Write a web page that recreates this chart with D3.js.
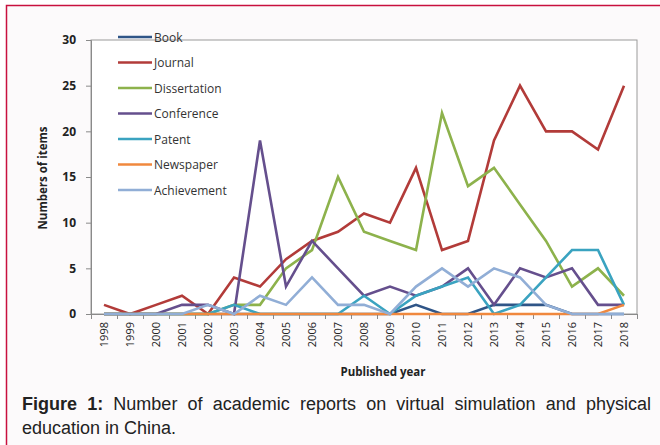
<!DOCTYPE html>
<html>
<head>
<meta charset="utf-8">
<script src="https://cdn.jsdelivr.net/npm/d3@7"></script>
<style>
  html, body { margin: 0; padding: 0; background: #fff; }
  svg { display: block; }
</style>
</head>
<body>
<svg id="chart"></svg>
<script>
// Academic reports per year, by type
const years = ['1998','1999','2000','2001','2002','2003','2004','2005','2006','2007','2008',
  '2009','2010','2011','2012','2013','2014','2015','2016','2017','2018'];
const seriesNames = ['Book', 'Journal', 'Dissertation', 'Conference', 'Patent', 'Newspaper', 'Achievement'];
const book =         [0, 0, 0, 0, 0, 0, 0, 0, 0, 0, 0, 0, 1, 0, 0, 1, 1, 1, 0, 0, 0];
const journal =      [1, 0, 1, 2, 0, 4, 3, 6, 8, 9, 11, 10, 16, 7, 8, 19, 25, 20, 20, 18, 25];
const dissertation = [0, 0, 0, 0, 0, 1, 1, 5, 7, 15, 9, 8, 7, 22, 14, 16, 12, 8, 3, 5, 2];
const conference =   [0, 0, 0, 1, 1, 0, 19, 3, 8, 5, 2, 3, 2, 3, 5, 1, 5, 4, 5, 1, 1];
const patent =       [0, 0, 0, 0, 0, 1, 0, 0, 0, 0, 2, 0, 2, 3, 4, 0, 1, 4, 7, 7, 1];
const newspaper =    [0, 0, 0, 0, 0, 0, 0, 0, 0, 0, 0, 0, 0, 0, 0, 0, 0, 0, 0, 0, 1];
const achievement =  [0, 0, 0, 0, 1, 0, 2, 1, 4, 1, 1, 0, 3, 5, 3, 5, 4, 1, 0, 0, 0];
const yTicks = [0, 5, 10, 15, 20, 25, 30];
const colors = ['#2f5587', '#b23b39', '#8db24c', '#654f8d', '#3aa3c0', '#f0883e', '#91aed6'];

const width = 660, height = 445;
const svg = d3.select('#chart').attr('width', width).attr('height', height);

// Figure frame
svg.append('rect').attr('x', 6.5).attr('y', 5.5).attr('width', 700).attr('height', 500)
  .attr('fill', '#fcfafb').attr('stroke', '#c8103e').attr('stroke-width', 1.5);

const plot = { left: 91, right: 637, top: 40, bottom: 314 };

const x = d3.scaleBand().domain(years).range([plot.left, plot.right]).padding(0);
const y = d3.scaleLinear().domain([0, 30]).range([plot.bottom, plot.top]);
const cx = d => x(d) + x.bandwidth() / 2;

// Plot area
svg.append('rect').attr('x', plot.left).attr('y', plot.top)
  .attr('width', plot.right - plot.left).attr('height', plot.bottom - plot.top)
  .attr('fill', '#fff').attr('stroke', '#9a9a9a').attr('stroke-width', 1);

// Y axis
const yAxis = svg.append('g').attr('transform', `translate(${plot.left},0)`)
  .call(d3.axisLeft(y).tickValues(yTicks).tickSize(5).tickPadding(10));
yAxis.select('.domain').attr('stroke', '#8a8a8a');
yAxis.selectAll('.tick line').attr('stroke', '#8a8a8a');
yAxis.selectAll('text').attr('font-family', 'Open Sans, sans-serif').attr('font-size', '12px')
  .attr('font-weight', 'bold').attr('fill', '#222');

// X axis: line, ticks between categories, rotated labels
const xg = svg.append('g');
xg.append('line').attr('x1', plot.left).attr('x2', plot.right)
  .attr('y1', plot.bottom + 0.5).attr('y2', plot.bottom + 0.5).attr('stroke', '#8a8a8a');
years.concat(['end']).forEach(yr => {
  const xx = yr === 'end' ? plot.right : x(yr);
  xg.append('line').attr('x1', xx + 0.5).attr('x2', xx + 0.5)
    .attr('y1', plot.bottom).attr('y2', plot.bottom + 5).attr('stroke', '#8a8a8a');
});
years.forEach(yr => {
  xg.append('text')
    .attr('transform', `translate(${cx(yr) + 4},${plot.bottom + 8}) rotate(-90)`)
    .attr('text-anchor', 'end')
    .attr('font-family', 'Open Sans, sans-serif').attr('font-size', '11px').attr('fill', '#222')
    .text(yr);
});

// Axis titles
svg.append('text').attr('transform', `translate(47,${(plot.top + plot.bottom) / 2 + 1}) rotate(-90)`)
  .attr('text-anchor', 'middle').attr('font-family', 'Open Sans, sans-serif')
  .attr('font-size', '11.5px').attr('font-weight', 'bold').attr('fill', '#222')
  .text('Numbers of items');
svg.append('text').attr('x', 383).attr('y', 376)
  .attr('text-anchor', 'middle').attr('font-family', 'Open Sans, sans-serif')
  .attr('font-size', '11.5px').attr('font-weight', 'bold').attr('fill', '#222')
  .text('Published year');

// Lines
const allSeries = [book, journal, dissertation, conference, patent, newspaper, achievement];
const line = d3.line().x((d, i) => cx(years[i])).y(d => y(d));
allSeries.forEach((vals, k) => {
  svg.append('path').datum(vals).attr('d', line)
    .attr('fill', 'none').attr('stroke', colors[k]).attr('stroke-width', 2.6)
    .attr('stroke-linejoin', 'miter');
});

// Legend
seriesNames.forEach((name, k) => {
  const ly = 37 + k * 25.5;
  svg.append('line').attr('x1', 118).attr('x2', 152).attr('y1', ly).attr('y2', ly)
    .attr('stroke', colors[k]).attr('stroke-width', 2.6);
  svg.append('text').attr('x', 154).attr('y', ly + 4.5)
    .attr('font-family', 'Open Sans, sans-serif').attr('font-size', '12px').attr('fill', '#333')
    .text(name);
});

// Caption (justified first line)
const capFont = 'Liberation Sans, Arial, sans-serif';
const capSize = '18px';
const line1 = [['Figure', true], ['1:', true], ['Number', false], ['of', false], ['academic', false],
  ['reports', false], ['on', false], ['virtual', false], ['simulation', false], ['and', false], ['physical', false]];
const capL = 22, capR = 651;
const tmp = line1.map(([w, b]) => {
  const t = svg.append('text').attr('font-family', capFont).attr('font-size', capSize)
    .attr('font-weight', b ? 'bold' : 'normal').attr('fill', '#222').text(w);
  return { t, w: t.node().getComputedTextLength() };
});
const totalW = d3.sum(tmp, d => d.w);
const gap = (capR - capL - totalW) / (tmp.length - 1);
let cxp = capL;
tmp.forEach(d => { d.t.attr('x', cxp).attr('y', 410); cxp += d.w + gap; });
svg.append('text').attr('x', capL).attr('y', 434)
  .attr('font-family', capFont).attr('font-size', capSize).attr('fill', '#222')
  .text('education in China.');
</script>
</body>
</html>
